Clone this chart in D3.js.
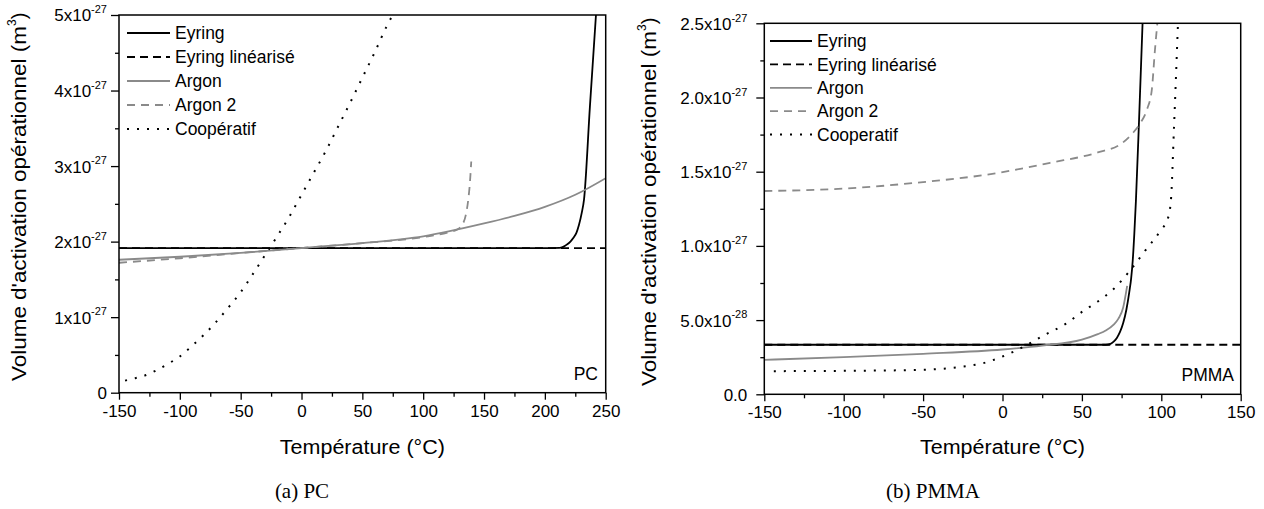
<!DOCTYPE html>
<html><head><meta charset="utf-8">
<script src="https://cdn.jsdelivr.net/npm/d3@7"></script>
<style>
body{margin:0;background:#fff;}
svg{display:block;font-family:Arial,"Liberation Sans",sans-serif;}
</style></head><body>
<svg id="chart" width="1264" height="509"></svg>
<script>
// ---------- DATA (values in units of 1e-27 m^3) ----------
const pcLegend = ["Eyring","Eyring linéarisé","Argon","Argon 2","Coopératif"];
const pmmaLegend = ["Eyring","Eyring linéarisé","Argon","Argon 2","Cooperatif"];

const pcXTicks = [-150,-100,-50,0,50,100,150,200,250];
const pcXMinor = [-125,-75,-25,25,75,125,175,225];
const pcYTicks = [0,1,2,3,4,5];
const pcYMinor = [0.5,1.5,2.5,3.5,4.5];
const pcYLabels = ["0","1x10","2x10","3x10","4x10","5x10"];
const pcYExp = ["","-27","-27","-27","-27","-27"];

const pmmaXTicks = [-150,-100,-50,0,50,100,150];
const pmmaXMinor = [-125,-75,-25,25,75,125];
const pmmaYTicks = [0,0.5,1.0,1.5,2.0,2.5];
const pmmaYMinor = [0.25,0.75,1.25,1.75,2.25];
const pmmaYLabels = ["0.0","5.0x10","1.0x10","1.5x10","2.0x10","2.5x10"];
const pmmaYExp = ["","-28","-27","-27","-27","-27"];

// PC series
const pcEyringT = [-150,205,212,215,218,221,223.5,226,228,230.3,232.2,237,242];
const pcEyringV = [1.915,1.915,1.917,1.93,1.96,2.0,2.05,2.12,2.22,2.38,2.56,3.78,5.0];
const pcEyringLinT = [-150,250];
const pcEyringLinV = [1.915,1.915];
const pcArgonT = [-150,-100,-50,0,50,100,150,175,200,225,250];
const pcArgonV = [1.76,1.80,1.85,1.915,1.98,2.07,2.24,2.34,2.46,2.62,2.84];
const pcArgon2T = [-150,-100,-50,0,50,100,120,128,132,135,137,138.5,139.5];
const pcArgon2V = [1.72,1.78,1.85,1.915,1.98,2.06,2.12,2.16,2.22,2.35,2.55,2.8,3.06];
const pcCoopT = [-145,-140,-130,-120,-110,-100,-90,-80,-70,-60,-50,-40,-30,-20,-10,0,10,20,30,40,50,60,70,75];
const pcCoopV = [0.16,0.18,0.22,0.29,0.38,0.48,0.62,0.77,0.94,1.13,1.33,1.57,1.82,2.07,2.33,2.62,2.91,3.2,3.52,3.84,4.17,4.5,4.85,5.0];

// PMMA series
const pmmaEyringT = [-150,65,68,70,72,74,76,78,80,81,82,83,84,86,88.2];
const pmmaEyringV = [0.334,0.334,0.34,0.355,0.38,0.42,0.48,0.57,0.70,0.78,0.90,1.08,1.30,1.85,2.5];
const pmmaEyringLinT = [-150,150];
const pmmaEyringLinV = [0.334,0.334];
const pmmaArgonT = [-150,-100,-50,0,25,50,60,65,70,73,76,78.5];
const pmmaArgonV = [0.2325,0.25,0.273,0.302,0.328,0.368,0.405,0.43,0.47,0.51,0.585,0.73];
const pmmaArgon2T = [-150,-100,-50,-10,30,60,75,82,87,91,94,96,97.5];
const pmmaArgon2V = [1.37,1.386,1.43,1.48,1.56,1.63,1.69,1.76,1.83,1.92,2.05,2.32,2.5];
const pmmaCoopT = [-144,-100,-50,-25,-12,0,15,26,40,50,60,70,80,90,100,104,106,108,110.5];
const pmmaCoopV = [0.156,0.158,0.165,0.187,0.21,0.255,0.33,0.397,0.476,0.555,0.625,0.71,0.83,0.97,1.11,1.18,1.3,1.8,2.5];

// ---------- STYLES ----------
const styles = [
  {color:"#000", width:1.8, dash:null},
  {color:"#000", width:1.8, dash:"8,5"},
  {color:"#8a8a8a", width:1.8, dash:null},
  {color:"#8a8a8a", width:1.8, dash:"8,6"},
  {color:"#000", width:2, dash:"2,8"}
];

const svg = d3.select("#chart");
const zip = (T,V) => T.map((t,i)=>({t, v:V[i]}));

function drawPanel(cfg){
  const x = d3.scaleLinear().domain(cfg.xDomain).range([cfg.left, cfg.right]);
  const y = d3.scaleLinear().domain(cfg.yDomain).range([cfg.bottom, cfg.top]);
  const g = svg.append("g");

  const clipId = "clip-" + cfg.id;
  svg.append("clipPath").attr("id", clipId).append("rect")
    .attr("x", cfg.left).attr("y", cfg.top)
    .attr("width", cfg.right-cfg.left).attr("height", cfg.bottom-cfg.top);

  // series
  const line = d3.line().x(d=>x(d.t)).y(d=>y(d.v)).curve(d3.curveMonotoneX);
  const lg = g.append("g").attr("clip-path", `url(#${clipId})`);
  cfg.series.forEach((s,i)=>{
    const st = styles[i];
    lg.append("path").datum(zip(s[0], s[1]))
      .attr("d", line).attr("fill","none")
      .attr("stroke", st.color).attr("stroke-width", st.width)
      .attr("stroke-dasharray", st.dash);
  });

  // minor ticks
  g.append("g").attr("transform",`translate(0,${cfg.bottom})`)
    .call(d3.axisBottom(x).tickValues(cfg.xMinor).tickSize(4).tickFormat("").tickSizeOuter(0))
    .call(a=>a.select(".domain").remove())
    .call(a=>a.selectAll("line").attr("stroke-width",1.3));
  g.append("g").attr("transform",`translate(${cfg.left},0)`)
    .call(d3.axisLeft(y).tickValues(cfg.yMinor).tickSize(4).tickFormat("").tickSizeOuter(0))
    .call(a=>a.select(".domain").remove())
    .call(a=>a.selectAll("line").attr("stroke-width",1.3));

  // major x axis
  const xa = g.append("g").attr("transform",`translate(0,${cfg.bottom})`)
    .call(d3.axisBottom(x).tickValues(cfg.xTicks).tickSize(7).tickSizeOuter(0).tickFormat(d=>d))
    .call(a=>a.select(".domain").remove());
  xa.selectAll("line").attr("stroke-width",1.3);
  xa.selectAll("text").attr("font-size",17).attr("fill","#000").attr("y",12)
    .attr("font-family","Arial, 'Liberation Sans', sans-serif");

  // major y axis
  const ya = g.append("g").attr("transform",`translate(${cfg.left},0)`)
    .call(d3.axisLeft(y).tickValues(cfg.yTicks).tickSize(8).tickSizeOuter(0).tickFormat(""))
    .call(a=>a.select(".domain").remove());
  ya.selectAll("line").attr("stroke-width",1.3);
  ya.selectAll(".tick").each(function(d,i){
    const t = d3.select(this).append("text")
      .attr("x", cfg.yLabelX).attr("dy","0.35em")
      .attr("text-anchor","end").attr("fill","#000")
      .attr("font-size",17).attr("font-family","Arial, 'Liberation Sans', sans-serif");
    t.append("tspan").text(cfg.yLabels[i]);
    if (cfg.yExp[i]) t.append("tspan").attr("font-size",11).attr("dy","-0.75em").text(cfg.yExp[i]);
  });

  // frame
  g.append("rect").attr("x",cfg.left).attr("y",cfg.top)
    .attr("width",cfg.right-cfg.left).attr("height",cfg.bottom-cfg.top)
    .attr("fill","none").attr("stroke","#000").attr("stroke-width",1.5);

  // legend
  cfg.legend.forEach((name,i)=>{
    const st = styles[i];
    const yy = cfg.legY + i*cfg.legStep;
    g.append("line").attr("x1",cfg.legX1).attr("x2",cfg.legX2).attr("y1",yy).attr("y2",yy)
      .attr("stroke",st.color).attr("stroke-width",st.width).attr("stroke-dasharray",st.dash);
    g.append("text").attr("x",cfg.legX2+5).attr("y",yy).attr("dy","0.35em")
      .attr("font-size",17.5).attr("fill","#000").text(name);
  });

  // panel label
  g.append("text").attr("x",cfg.tagX).attr("y",cfg.tagY).attr("text-anchor","end")
    .attr("font-size",17.5).text(cfg.tag);

  // x title
  g.append("text").attr("x",(cfg.left+cfg.right)/2).attr("y",454).attr("text-anchor","middle")
    .attr("font-size",20).attr("textLength",165).attr("lengthAdjust","spacingAndGlyphs")
    .text("Température (°C)");

  // y title
  const yt = g.append("text")
    .attr("transform",`translate(${cfg.yTitleX},${(cfg.top+cfg.bottom)/2 - 7}) rotate(-90)`)
    .attr("text-anchor","middle").attr("font-size",20);
  yt.append("tspan").attr("textLength",cfg.yTitleLen).attr("lengthAdjust","spacingAndGlyphs")
    .text("Volume d'activation opérationnel (m");
  yt.append("tspan").attr("font-size",12).attr("dy","-0.8em").text("3");
  yt.append("tspan").attr("dy","0.5em").text(")");

  // caption
  svg.append("text").attr("x",cfg.capX).attr("y",498).attr("text-anchor","middle")
    .attr("font-family","'Liberation Serif','DejaVu Serif',serif").attr("font-size",21)
    .text(cfg.caption);
}

drawPanel({
  id:"pc", left:119, right:605.7, top:15, bottom:392.7,
  xDomain:[-150,250], yDomain:[0,5],
  xTicks:pcXTicks, xMinor:pcXMinor, yTicks:pcYTicks, yMinor:pcYMinor,
  yLabels:pcYLabels, yExp:pcYExp, yLabelX:-12,
  series:[[pcEyringT,pcEyringV],[pcEyringLinT,pcEyringLinV],[pcArgonT,pcArgonV],[pcArgon2T,pcArgon2V],[pcCoopT,pcCoopV]],
  legend:pcLegend, legX1:127, legX2:170, legY:33, legStep:24,
  tag:"PC", tagX:598, tagY:380, yTitleX:26, yTitleLen:355, caption:"(a) PC", capX:302
});
drawPanel({
  id:"pmma", left:764.3, right:1240.7, top:23.3, bottom:394.3,
  xDomain:[-150,150], yDomain:[0,2.5],
  xTicks:pmmaXTicks, xMinor:pmmaXMinor, yTicks:pmmaYTicks, yMinor:pmmaYMinor,
  yLabels:pmmaYLabels, yExp:pmmaYExp, yLabelX:-17,
  series:[[pmmaEyringT,pmmaEyringV],[pmmaEyringLinT,pmmaEyringLinV],[pmmaArgonT,pmmaArgonV],[pmmaArgon2T,pmmaArgon2V],[pmmaCoopT,pmmaCoopV]],
  legend:pmmaLegend, legX1:770, legX2:812, legY:41, legStep:23.4,
  tag:"PMMA", tagX:1234, tagY:381, yTitleX:656, yTitleLen:355, caption:"(b) PMMA", capX:933
});
</script>
</body></html>
